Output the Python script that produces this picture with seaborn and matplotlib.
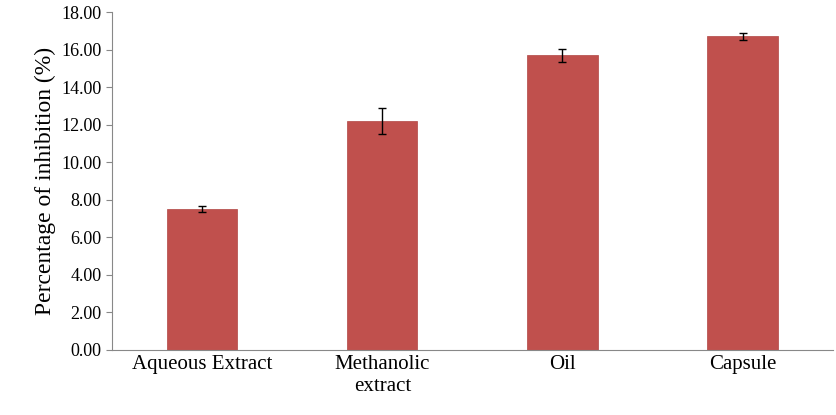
import numpy as np
import pandas as pd
import matplotlib
matplotlib.use("Agg")
from matplotlib import pyplot as plt
import seaborn as sns

# Data
categories = ["Aqueous Extract", "Methanolic\nextract", "Oil", "Capsule"]
inhibition = [7.5, 12.2, 15.7, 16.7]
errors = [0.15, 0.7, 0.35, 0.2]

df = pd.DataFrame({"sample": categories, "inhibition": inhibition})

plt.rcParams["font.family"] = "Liberation Serif"
fig = plt.figure(figsize=(8.36, 4.15), dpi=100)
ax = fig.add_axes([0.134, 0.157, 0.862, 0.814])

sns.barplot(data=df, x="sample", y="inhibition", color="#C0504D",
            saturation=1, width=0.39, ax=ax, edgecolor="#B04542", linewidth=0.5)
ax.errorbar(np.arange(len(categories)), inhibition, yerr=errors, fmt="none",
            ecolor="black", elinewidth=1, capsize=3, capthick=1)

ax.set_ylim(0, 18)
ax.set_yticks(np.arange(0, 18.01, 2))
ax.set_yticklabels([f"{v:.2f}" for v in np.arange(0, 18.01, 2)], fontsize=13)
ax.set_xlim(-0.5, 3.5)
ax.tick_params(axis="x", labelsize=15, length=0)
ax.tick_params(axis="y", length=4, color="#888888")
ax.set_xlabel("")
ax.set_ylabel("Percentage of inhibition (%)", fontsize=17)
for s in ["top", "right"]:
    ax.spines[s].set_visible(False)
for s in ["left", "bottom"]:
    ax.spines[s].set_color("#888888")

fig.savefig("out.png", dpi=100)
